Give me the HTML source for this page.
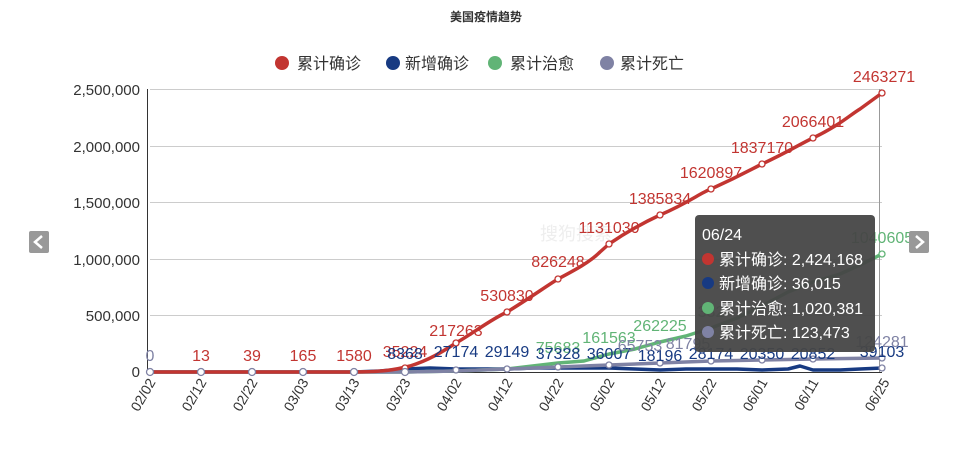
<!DOCTYPE html>
<html><head><meta charset="utf-8"><style>
body{margin:0;background:#fff;}
svg text{font-family:"Liberation Sans","Noto Sans CJK SC",sans-serif;}
</style></head><body>
<svg width="972" height="455" xmlns="http://www.w3.org/2000/svg">
<text x="486" y="21" font-size="12" font-weight="bold" text-anchor="middle" fill="#333">美国疫情趋势</text>
<g font-size="16" fill="#333">
<circle cx="282" cy="63" r="7" fill="#c23531"/><text x="297" y="69">累计确诊</text>
<circle cx="393" cy="63" r="7" fill="#173a82"/><text x="405" y="69">新增确诊</text>
<circle cx="495" cy="63" r="7" fill="#61b476"/><text x="510" y="69">累计治愈</text>
<circle cx="607" cy="63" r="7" fill="#7f82a4"/><text x="620" y="69">累计死亡</text>
</g>
<g stroke="#ccc" stroke-width="1">
<line x1="150" x2="882" y1="89.5" y2="89.5"/><line x1="150" x2="882" y1="146.5" y2="146.5"/>
<line x1="150" x2="882" y1="202.5" y2="202.5"/><line x1="150" x2="882" y1="259.5" y2="259.5"/>
<line x1="150" x2="882" y1="315.5" y2="315.5"/>
</g>
<line x1="879.5" x2="879.5" y1="89" y2="372" stroke="#999"/>
<line x1="147.5" x2="147.5" y1="89" y2="372" stroke="#333"/>
<line x1="147" x2="882" y1="372.5" y2="372.5" stroke="#333"/>
<g font-size="15" fill="#333" text-anchor="end">
<text x="140" y="95">2,500,000</text><text x="140" y="152">2,000,000</text>
<text x="140" y="208">1,500,000</text><text x="140" y="265">1,000,000</text>
<text x="140" y="321">500,000</text><text x="140" y="377">0</text>
</g>
<g font-size="14" fill="#333" text-anchor="end">
<text transform="translate(156,382) rotate(-60)">02/02</text>
<text transform="translate(207,382) rotate(-60)">02/12</text>
<text transform="translate(258,382) rotate(-60)">02/22</text>
<text transform="translate(309,382) rotate(-60)">03/03</text>
<text transform="translate(360,382) rotate(-60)">03/13</text>
<text transform="translate(411,382) rotate(-60)">03/23</text>
<text transform="translate(462,382) rotate(-60)">04/02</text>
<text transform="translate(513,382) rotate(-60)">04/12</text>
<text transform="translate(564,382) rotate(-60)">04/22</text>
<text transform="translate(615,382) rotate(-60)">05/02</text>
<text transform="translate(666,382) rotate(-60)">05/12</text>
<text transform="translate(717,382) rotate(-60)">05/22</text>
<text transform="translate(768,382) rotate(-60)">06/01</text>
<text transform="translate(819,382) rotate(-60)">06/11</text>
<text transform="translate(890,382) rotate(-60)">06/25</text>
</g>
<text x="540" y="240" font-size="18" fill="#eee">搜狗搜索</text>
<g fill="none" stroke-width="3.5" stroke-linejoin="round" stroke-linecap="round">
<polyline stroke="#173a82" points="150,372 354,372 380,371 405,369 430,368 456,369 482,369 507,369 533,368 558,368 584,368 609,368 635,369 660,370 686,369 711,369 737,369 762,370 788,369 800,366 813,370 840,370 860,369 882,368"/>
<polyline stroke="#61b476" points="150,372 405,372 456,371 507,369 558,363 584,361 609,354 635,349 660,342 686,336 711,328 737,318 762,306 788,292 813,282 840,274 860,265 882,254"/>
<polyline stroke="#7f82a4" points="150,372 405,372 456,371 507,369 558,367 609,365 660,363 711,361 762,360 813,359 882,358"/>
<path stroke="#c23531" d="M150,372 L354,372 C380,372 395,370 410,366 C430,360 445,350 456,343 C475,332 490,320 507,312 C530,298 545,287 558,279 C575,270 590,262 600,252 L609,244 C625,233 645,222 660,215 C690,202 700,193 711,189 C740,176 750,170 762,164 C790,151 800,144 813,138 C840,125 850,115 860,109 L882,93"/>
</g>
<g fill="#fff" stroke-width="1.3">
<g stroke="#c23531"><circle cx="405" cy="368" r="3"/><circle cx="456" cy="343" r="3"/><circle cx="507" cy="312" r="3"/><circle cx="558" cy="279" r="3"/><circle cx="609" cy="244" r="3"/><circle cx="660" cy="215" r="3"/><circle cx="711" cy="189" r="3"/><circle cx="762" cy="164" r="3"/><circle cx="813" cy="138" r="3"/><circle cx="882" cy="93" r="3"/></g>
<g stroke="#61b476"><circle cx="882" cy="254" r="3"/></g>
<g stroke="#7f82a4"><circle cx="150" cy="372" r="3.5"/><circle cx="201" cy="372" r="3.5"/><circle cx="252" cy="372" r="3.5"/><circle cx="303" cy="372" r="3.5"/><circle cx="354" cy="372" r="3.5"/><circle cx="405" cy="372" r="3.5"/><circle cx="456" cy="370" r="3"/><circle cx="507" cy="369" r="3"/><circle cx="558" cy="367" r="3"/><circle cx="609" cy="365" r="3"/><circle cx="660" cy="363" r="3"/><circle cx="711" cy="361" r="3"/><circle cx="762" cy="360" r="3"/><circle cx="813" cy="359" r="3"/><circle cx="882" cy="358" r="3"/><circle cx="882" cy="368" r="3"/></g>
</g>
<g font-size="16" fill="#c23531" text-anchor="middle">
<text x="150" y="361" fill="#7f82a4">0</text><text x="201" y="361">13</text><text x="252" y="361">39</text><text x="303" y="361">165</text><text x="354" y="361">1580</text>
<text x="405" y="357">35224</text><text x="456" y="336">217263</text><text x="507" y="301">530830</text>
<text x="558" y="267">826248</text><text x="609" y="233">1131030</text><text x="660" y="204">1385834</text>
<text x="711" y="178">1620897</text><text x="762" y="153">1837170</text><text x="813" y="127">2066401</text><text x="884" y="82">2463271</text>
</g>
<g font-size="16" fill="#61b476" text-anchor="middle">
<text x="558" y="353">75683</text><text x="609" y="343">161563</text><text x="660" y="331">262225</text><text x="711" y="317">382</text><text x="882" y="243">1040605</text>
</g>
<g font-size="16" fill="#173a82" text-anchor="middle">
<text x="405" y="359">8368</text><text x="456" y="357">27174</text><text x="507" y="357">29149</text><text x="558" y="359">37328</text>
<text x="609" y="359">36007</text><text x="660" y="361">18196</text><text x="711" y="359">28174</text><text x="762" y="359">20350</text><text x="813" y="359">20852</text><text x="882" y="357">39103</text>
</g>
<g font-size="16" fill="#7f82a4" text-anchor="middle"><text x="640" y="351">65753</text><text x="688" y="349">81795</text><text x="882" y="347">124281</text></g>
<rect x="695" y="215" width="180" height="137" rx="4" fill="#464646" fill-opacity="0.95"/>
<g font-size="16" fill="#fff">
<text x="702" y="240">06/24</text>
<circle cx="708" cy="259" r="6" fill="#c23531"/><text x="719" y="265">累计确诊: 2,424,168</text>
<circle cx="708" cy="283" r="6" fill="#173a82"/><text x="719" y="289">新增确诊: 36,015</text>
<circle cx="708" cy="308" r="6" fill="#61b476"/><text x="719" y="314">累计治愈: 1,020,381</text>
<circle cx="708" cy="332" r="6" fill="#7f82a4"/><text x="719" y="338">累计死亡: 123,473</text>
</g>
<rect x="29" y="231" width="20" height="22" rx="2" fill="#999"/>
<path d="M42,236 L35,242 L42,248" stroke="#fff" stroke-width="2.5" fill="none"/>
<rect x="909" y="231" width="20" height="22" rx="2" fill="#999"/>
<path d="M916,236 L923,242 L916,248" stroke="#fff" stroke-width="2.5" fill="none"/>
</svg>
</body></html>
